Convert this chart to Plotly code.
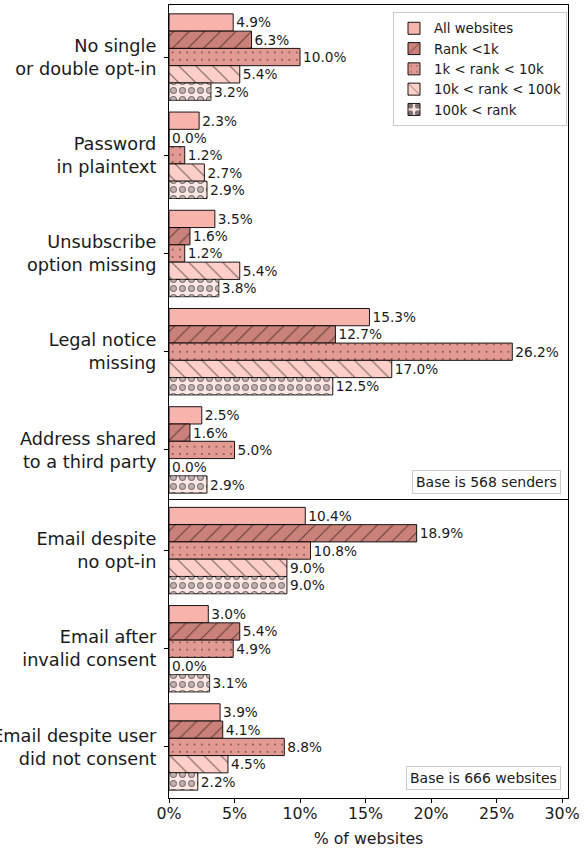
import plotly.graph_objects as go

# ---------------- data ----------------
cats_top = ["No single<br>or double opt-in", "Password<br>in plaintext",
            "Unsubscribe<br>option missing", "Legal notice<br>missing",
            "Address shared<br>to a third party"]
cats_bot = ["Email despite<br>no opt-in", "Email after<br>invalid consent",
            "Email despite user<br>did not consent"]

series_names = ["All websites", "Rank <1k", "1k < rank < 10k",
                "10k < rank < 100k", "100k < rank"]

all_top = [4.9, 2.3, 3.5, 15.3, 2.5]
r1k_top = [6.3, 0.0, 1.6, 12.7, 1.6]
r10k_top = [10.0, 1.2, 1.2, 26.2, 5.0]
r100k_top = [5.4, 2.7, 5.4, 17.0, 0.0]
rrest_top = [3.2, 2.9, 3.8, 12.5, 2.9]

all_bot = [10.4, 3.0, 3.9]
r1k_bot = [18.9, 5.4, 4.1]
r10k_bot = [10.8, 4.9, 8.8]
r100k_bot = [9.0, 0.0, 4.5]
rrest_bot = [9.0, 3.1, 2.2]

x_ticks = [0, 5, 10, 15, 20, 25, 30]
x_tick_labels = ["0%", "5%", "10%", "15%", "20%", "25%", "30%"]

# ---------------- style ----------------
FONT = "DejaVu Sans"
colors = ["#f9b3ad", "#c9817a", "#e29a93", "#fdcfc8", "#fee7e3"]
patterns = [
    dict(shape=""),
    dict(shape="/", fgcolor="black", size=11, solidity=0.1, fillmode="overlay"),
    dict(shape=".", fgcolor="black", size=7.3, solidity=0.05, fillmode="overlay"),
    dict(shape="\\", fgcolor="black", size=12, solidity=0.1, fillmode="overlay"),
    dict(shape=".", fgcolor="black", size=9, solidity=0.475, fillmode="overlay"),
]

top_series = [all_top, r1k_top, r10k_top, r100k_top, rrest_top]
bot_series = [all_bot, r1k_bot, r10k_bot, r100k_bot, rrest_bot]

BARGAP = 0.12
BAR_W = (1 - BARGAP) / 5

fig = go.Figure()

for i, name in enumerate(series_names):
    for (vals, cats, xa, ya, show) in [(top_series[i], cats_top, "x", "y", True),
                                        (bot_series[i], cats_bot, "x2", "y2", False)]:
        fig.add_trace(go.Bar(
            x=vals, y=cats, orientation="h", name=name,
            xaxis=xa, yaxis=ya, showlegend=show, legendgroup=name,
            marker=dict(color=colors[i], line=dict(color="black", width=0.9),
                        pattern=patterns[i]),
            text=vals, texttemplate="%{x:.1f}%", textposition="outside",
            textfont=dict(family=FONT, size=13.7, color="#1a1a1a"),
            constraintext="none", cliponaxis=False,
        ))

# inner fill of the hollow circles for the last series
for (vals, cats, xa, ya) in [(rrest_top, cats_top, "x", "y"),
                             (rrest_bot, cats_bot, "x2", "y2")]:
    fig.add_trace(go.Bar(
        x=vals, y=cats, orientation="h", xaxis=xa, yaxis=ya,
        offset=-(1 - BARGAP) / 2 + 4 * BAR_W, width=BAR_W,
        showlegend=False, hoverinfo="skip",
        marker=dict(color="rgba(0,0,0,0)", line=dict(width=0),
                    pattern=dict(shape=".", fgcolor="#fff1ee", size=9,
                                 solidity=0.242, fillmode="overlay")),
    ))

axis_common = dict(showline=True, mirror=True, linecolor="black", linewidth=1.2,
                   showgrid=False, zeroline=False)

fig.update_layout(
    template="none",
    width=586, height=853,
    margin=dict(l=169, r=18, t=5, b=55, autoexpand=False),
    paper_bgcolor="white", plot_bgcolor="white",
    font=dict(family=FONT, color="#1a1a1a"),
    barmode="group", bargap=BARGAP, bargroupgap=0,
    xaxis=dict(domain=[0, 1], anchor="y", range=[0, 30.45], showticklabels=False,
               ticks="", **axis_common),
    yaxis=dict(domain=[0.377, 1], anchor="x", range=[4.5, -0.53],
               ticks="outside", ticklen=4, tickcolor="black",
               tickfont=dict(family=FONT, size=17.7), ticklabelstandoff=4,
               automargin=False, **axis_common),
    xaxis2=dict(domain=[0, 1], anchor="y2", range=[0, 30.45],
                tickmode="array", tickvals=x_ticks, ticktext=x_tick_labels,
                ticks="outside", ticklen=4,
                tickcolor="black", tickfont=dict(family=FONT, size=15.8),
                ticklabelstandoff=-3,
                title=dict(text="% of websites", font=dict(family=FONT, size=15.8),
                           standoff=10),
                automargin=False, **axis_common),
    yaxis2=dict(domain=[0, 0.3758], anchor="x2", range=[2.52, -0.515],
                ticks="outside", ticklen=4, tickcolor="black",
                tickfont=dict(family=FONT, size=17.7), ticklabelstandoff=4,
                automargin=False, **axis_common),
    legend=dict(x=0.9975, xanchor="right", y=0.991, yanchor="top",
                bgcolor="white", bordercolor="#cccccc", borderwidth=1,
                font=dict(family=FONT, size=13.3), tracegroupgap=0,
                itemwidth=30, traceorder="normal"),
    annotations=[
        dict(text="Base is 568 senders", xref="x domain", yref="y domain",
             x=0.982, y=0.01, xanchor="right", yanchor="bottom", showarrow=False,
             font=dict(family=FONT, size=14), bgcolor="white",
             bordercolor="#cccccc", borderwidth=1, borderpad=3),
        dict(text="Base is 666 websites", xref="x2 domain", yref="y2 domain",
             x=0.982, y=0.027, xanchor="right", yanchor="bottom", showarrow=False,
             font=dict(family=FONT, size=14), bgcolor="white",
             bordercolor="#cccccc", borderwidth=1, borderpad=3),
    ],
)

fig.write_html("out.html", config={"displayModeBar": False},
               post_script="document.body.style.margin='0px';")
